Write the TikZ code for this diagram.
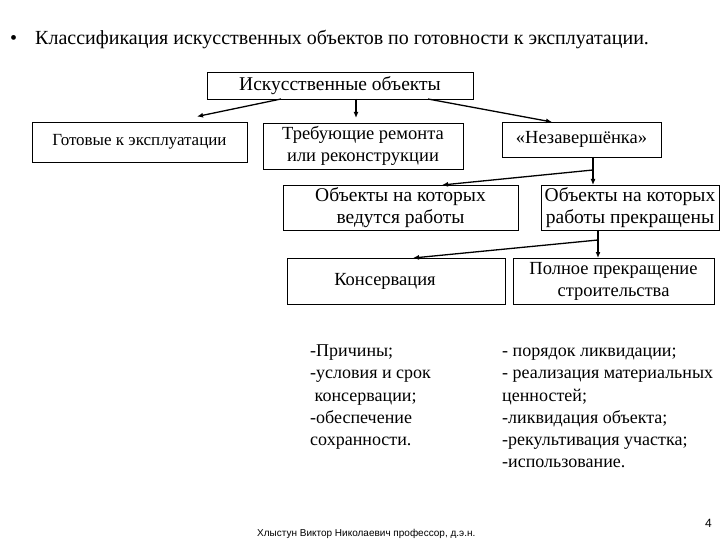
\documentclass[tikz,border=0pt]{standalone}
\usepackage{fontspec}
\setmainfont{Liberation Serif}
\newfontfamily\footfont{Liberation Sans}
\usetikzlibrary{arrows.meta}
\begin{document}
\begin{tikzpicture}[x=1pt,y=-1pt,
  box/.style={draw, line width=0.8pt, inner sep=0pt, align=center},
  fa/.style={font=\fontsize{17}{22}\selectfont},
  fb/.style={font=\fontsize{18.5}{22}\selectfont},
  fc/.style={font=\fontsize{19.5}{22}\selectfont},
  arr/.style={line width=1.3pt, -{Latex[length=6pt,width=5pt]}},
  ln/.style={line width=1.3pt},
  lst/.style={align=left, anchor=north west, inner sep=0pt, font=\fontsize{18}{22.2}\selectfont}]
\useasboundingbox (0,0) rectangle (720,540);
% title
\node[anchor=base west, inner sep=0pt, font=\fontsize{20}{22}\selectfont] (bul) at (10,45) {•};
\node[anchor=base west, inner sep=0pt, font=\fontsize{20}{22}\selectfont] (title) at (35,45) {Классификация искусственных объектов по готовности к эксплуатации.};
% boxes
\node[box, fc, minimum width=266pt, minimum height=27pt] (top) at (340,85.5) {Искусственные объекты};
\node[box, fa, minimum width=215pt, minimum height=40pt] (got) at (139.5,142) {Готовые к эксплуатации};
\node[box, fb, minimum width=200pt, minimum height=46pt] (treb) at (363,146) {Требующие ремонта\\или реконструкции};
\node[box, fb, minimum width=159pt, minimum height=35pt] (nez) at (581.5,139.5) {«Незавершёнка»};
\node[box, fc, minimum width=235pt, minimum height=45pt] (ved) at (400.5,207.5) {Объекты на которых\\ведутся работы};
\node[box, fc, minimum width=178pt, minimum height=45pt] (prek) at (630,207.5) {Объекты на которых\\работы прекращены};
\node[box, fb, minimum width=218pt, minimum height=46pt] (kons) at (396,281) {\hspace*{-22pt}Консервация};
\node[box, fb, minimum width=201pt, minimum height=46pt] (poln) at (613.5,281) {Полное прекращение\\строительства};
% connectors
\coordinate (t1) at (281,99);
\coordinate (t2) at (428,99);
\draw[arr] (t1) -- (197,116.5);
\draw[arr] (356,99) -- (356,118);
\draw[arr] (t2) -- (552,122);
\coordinate (n1) at (593,157);
\coordinate (n2) at (593,170);
\draw[ln] (n1) -- (n2);
\draw[arr] (n2) -- (593,185);
\draw[arr] (n2) -- (442,185);
\coordinate (p1) at (598,230);
\coordinate (p2) at (598,240);
\draw[ln] (p1) -- (p2);
\draw[arr] (p2) -- (598,258);
\draw[arr] (p2) -- (413,258);
% lists
\node[lst] (l1) at (310,341) {\strut-Причины;\\-условия и срок\\\ консервации;\\-обеспечение\\сохранности.};
\node[lst] (l2) at (502,341) {\strut- порядок ликвидации;\\- реализация материальных\\ценностей;\\-ликвидация объекта;\\-рекультивация участка;\\-использование.};
% footer
\node[anchor=base west, inner sep=0pt, font=\footfont\fontsize{10}{12}\selectfont] (foot) at (257,536) {Хлыстун Виктор Николаевич профессор, д.э.н.};
\node[anchor=base west, inner sep=0pt, font=\footfont\fontsize{12}{14}\selectfont] (num) at (705,527) {4};
\end{tikzpicture}
\end{document}
